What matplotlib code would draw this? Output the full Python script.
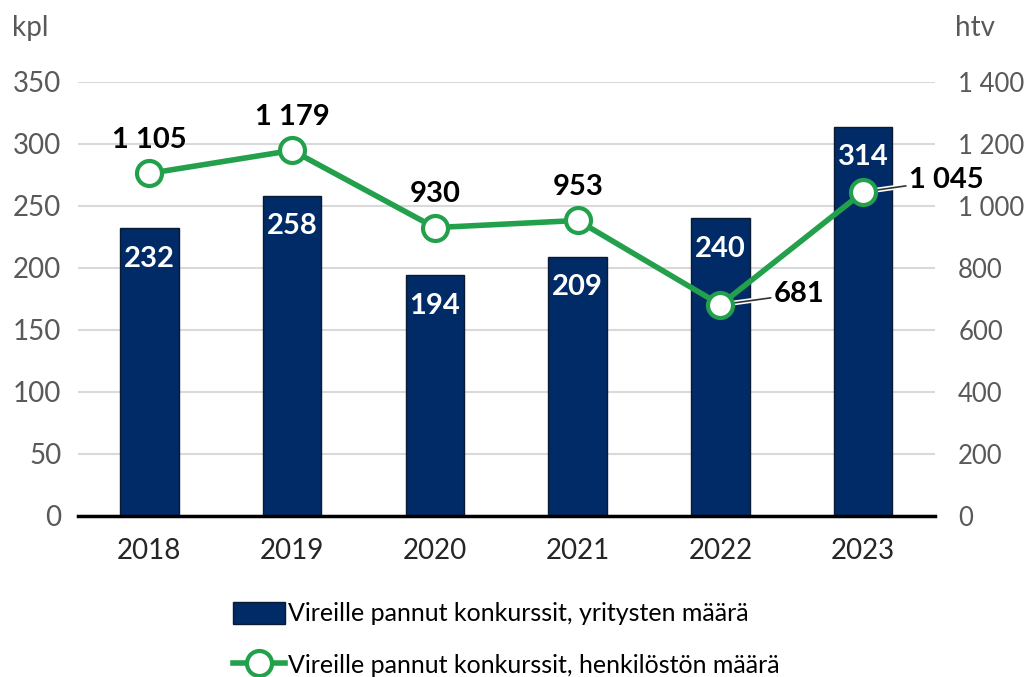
import matplotlib

matplotlib.use("Agg")
import matplotlib.pyplot as plt
import matplotlib.patheffects as pe
import numpy as np

years = ["2018", "2019", "2020", "2021", "2022", "2023"]
companies = [232, 258, 194, 209, 240, 314]
staff = [1105, 1179, 930, 953, 681, 1045]

bar_label = "Vireille pannut konkurssit, yritysten määrä"
line_label = "Vireille pannut konkurssit, henkilöstön määrä"

NAVY = "#002b66"
GREEN = "#23a04c"
GREY = "#595959"


def fmt(v):
    return f"{v:,.0f}".replace(",", " ")


plt.rcParams["font.family"] = ["Lato", "DejaVu Sans"]

fig = plt.figure(figsize=(10.27, 6.77), dpi=100)
ax = fig.add_axes([0.076, 0.238, 0.834, 0.641])
ax2 = ax.twinx()

x = np.arange(len(years))
bars = ax.bar(x, companies, 0.41, color=NAVY, edgecolor="#0a1a33", linewidth=1, zorder=2, label=bar_label)
ax.set_xlim(-0.5, len(years) - 0.5)
ax.set_ylim(0, 350)
ax.set_yticks(np.arange(0, 351, 50))
ax.set_xticks(x)
ax.set_xticklabels(years)
ax.grid(axis="y", color="#d9d9d9", linewidth=1.5, zorder=0)
ax.set_axisbelow(True)
for s in ["top", "right", "left"]:
    ax.spines[s].set_visible(False)
ax.spines["bottom"].set_linewidth(2.5)
ax.spines["bottom"].set_color("black")
ax.tick_params(axis="both", length=0, labelsize=20, colors=GREY, pad=12)
ax.tick_params(axis="x", colors="#262626", pad=16)

for xi, v in zip(x, companies):
    ax.text(xi, v - 14, str(v), ha="center", va="top", color="white", fontsize=21, fontweight="bold", zorder=3)

ax2.set_ylim(0, 1400)
ax2.set_yticks(np.arange(0, 1401, 200))
ax2.set_yticklabels([fmt(t) for t in np.arange(0, 1401, 200)])
for s in ["top", "right", "left", "bottom"]:
    ax2.spines[s].set_visible(False)
ax2.tick_params(axis="y", length=0, labelsize=18.5, colors=GREY, pad=17)

ax2.plot(x, staff, color=GREEN, linewidth=4, marker="o", markersize=18, markerfacecolor="white",
         markeredgecolor=GREEN, markeredgewidth=3, zorder=4, label=line_label)

halo = [pe.Stroke(linewidth=3.5, foreground="white"), pe.Normal()]
for i, v in enumerate(staff):
    if i == 4:
        ax2.annotate(fmt(v), xy=(x[i], v), xytext=(x[i] + 0.55, v + 35), ha="center", va="center",
                     fontsize=21, fontweight="bold", color="black",
                     arrowprops=dict(arrowstyle="-", color="#333333", lw=1.2, shrinkA=0, shrinkB=9,
                                     path_effects=halo))
    elif i == 5:
        ax2.annotate(fmt(v), xy=(x[i], v), xytext=(x[i] + 0.58, v + 38), ha="center", va="center",
                     fontsize=21, fontweight="bold", color="black",
                     arrowprops=dict(arrowstyle="-", color="#333333", lw=1.2, shrinkA=0, shrinkB=9,
                                     path_effects=halo))
    else:
        ax2.text(x[i], v + 108, fmt(v), ha="center", va="center", fontsize=21, fontweight="bold", color="black")

fig.text(0.029, 0.958, "kpl", ha="center", va="center", fontsize=20, color=GREY)
fig.text(0.949, 0.958, "htv", ha="center", va="center", fontsize=20, color=GREY)

h1, l1 = ax.get_legend_handles_labels()
h2, l2 = ax2.get_legend_handles_labels()
fig.legend(h1 + h2, l1 + l2, loc="center", bbox_to_anchor=(0.493, 0.056), ncol=1, frameon=False,
           fontsize=18, handlelength=2.1, handleheight=1.0, handletextpad=0.1, labelspacing=1.1,
           labelcolor="black")

fig.savefig("out.png", dpi=100)
